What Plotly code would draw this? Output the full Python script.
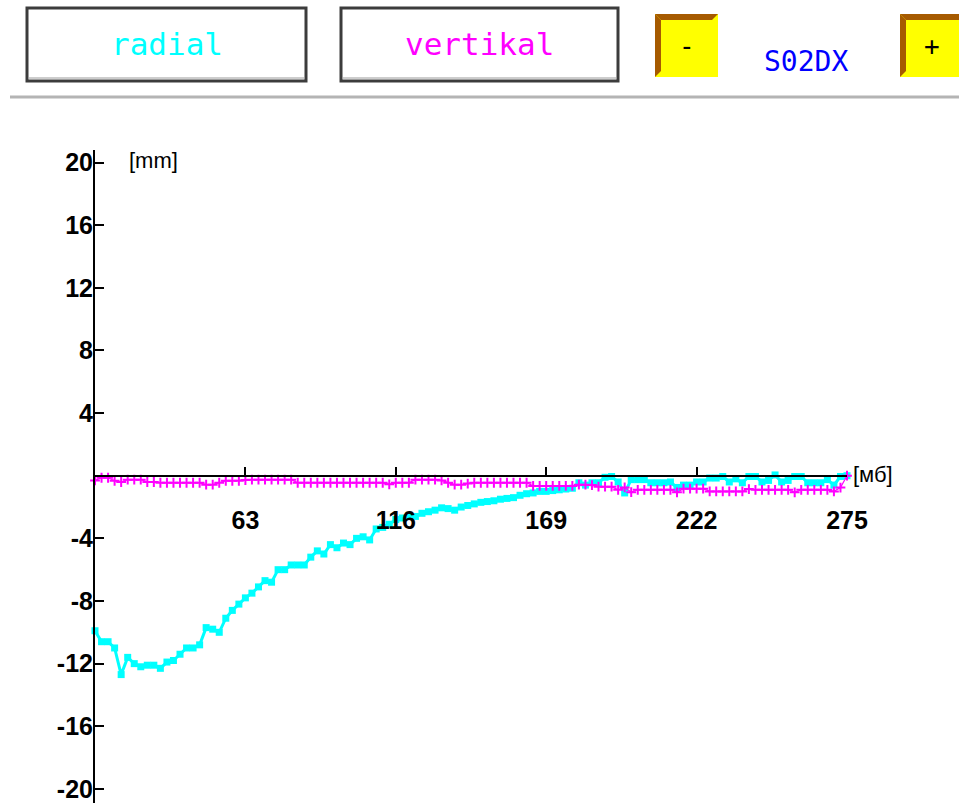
import plotly.graph_objects as go

# ---------------- data ----------------
x_mb = [round(10 + i * 265 / 115, 2) for i in range(116)]

radial_mm = [
    -9.9, -10.6, -10.6, -11.0, -12.7, -11.6, -12.0, -12.2, -12.1, -12.1,
    -12.3, -11.9, -11.8, -11.4, -11.0, -11.0, -10.8, -9.7, -9.8, -10.0,
    -9.1, -8.6, -8.2, -7.8, -7.5, -7.1, -6.7, -6.8, -6.0, -6.0,
    -5.7, -5.7, -5.7, -5.2, -4.8, -5.0, -4.4, -4.6, -4.3, -4.4,
    -4.0, -3.9, -4.1, -3.4, -3.3, -3.1, -2.8, -2.7, -2.6, -2.6,
    -2.4, -2.3, -2.2, -2.05, -2.1, -2.2, -2.0, -1.9, -1.8, -1.7,
    -1.65, -1.6, -1.5, -1.45, -1.4, -1.25, -1.15, -1.1, -1.0, -1.0,
    -0.95, -0.9, -0.85, -0.8, -0.45, -0.6, -0.45, -0.45, -0.1, -0.05,
    -0.4, -1.1, -0.25, -0.25, -0.25, -0.45, -0.45, -0.45, -0.4, -0.75,
    -0.6, -0.6, -0.4, -0.4, -0.15, -0.15, -0.05, -0.4, -0.2, -0.45,
    -0.05, -0.05, -0.4, -0.3, 0.05, -0.4, -0.3, -0.05, -0.05, -0.45,
    -0.45, -0.45, -0.25, -0.6, -0.05, 0.0,
]

vertikal_mm = [
    -0.3, -0.13, -0.13, -0.32, -0.4, -0.25, -0.25, -0.25, -0.4, -0.4,
    -0.45, -0.45, -0.45, -0.45, -0.45, -0.45, -0.45, -0.57, -0.57, -0.45,
    -0.32, -0.32, -0.32, -0.28, -0.25, -0.25, -0.25, -0.25, -0.25, -0.25,
    -0.25, -0.45, -0.45, -0.45, -0.45, -0.45, -0.45, -0.45, -0.45, -0.45,
    -0.45, -0.45, -0.45, -0.45, -0.45, -0.55, -0.45, -0.45, -0.45, -0.25,
    -0.25, -0.25, -0.25, -0.3, -0.45, -0.57, -0.57, -0.5, -0.45, -0.45,
    -0.45, -0.45, -0.45, -0.45, -0.45, -0.45, -0.45, -0.65, -0.65, -0.65,
    -0.65, -0.65, -0.65, -0.65, -0.57, -0.57, -0.6, -0.7, -0.7, -0.7,
    -0.9, -0.75, -1.05, -0.9, -0.9, -0.9, -0.9, -0.9, -0.9, -1.06,
    -0.83, -0.83, -0.83, -0.83, -1.0, -1.0, -1.0, -1.0, -1.0, -1.0,
    -0.85, -0.9, -0.9, -0.9, -0.9, -0.9, -0.9, -1.06, -0.9, -0.9,
    -0.9, -0.9, -0.9, -1.0, -0.76, 0.0,
]

y_tick_vals = [20, 16, 12, 8, 4, -4, -8, -12, -16, -20]
y_tick_text = ["20", "16", "12", "8", "4", "-4", "-8", "-12", "-16", "-20"]
x_tick_vals = [63, 116, 169, 222, 275]
x_tick_text = ["63", "116", "169", "222", "275"]

# ---------------- geometry ----------------
W_PAGE, H_PAGE = 959, 808
M_L, M_R, M_T, M_B = 95, 112, 150, 5
Y_MIN, Y_MAX = -20.9, 20.8
X_MIN, X_MAX = 10, 275
PW = W_PAGE - M_L - M_R
PH = H_PAGE - M_T - M_B


def fx(px):
    return (px - M_L) / PW


def fy(py):
    return (H_PAGE - M_B - py) / PH


TICKF = "Liberation Sans, Arial, sans-serif"
MONO = "DejaVu Sans Mono, Liberation Mono, monospace"

fig = go.Figure()

fig.add_trace(go.Scatter(
    x=x_mb, y=radial_mm, mode="lines+markers", name="radial",
    line=dict(color="#00FFFF", width=3),
    marker=dict(symbol="square", size=7, color="#00FFFF"),
    cliponaxis=False,
))
fig.add_trace(go.Scatter(
    x=x_mb, y=vertikal_mm, mode="lines+markers", name="vertikal",
    line=dict(color="#FF00FF", width=1.2),
    marker=dict(symbol="cross-thin", size=7, color="#FF00FF",
                line=dict(color="#FF00FF", width=2)),
    cliponaxis=False,
))

shapes = []
annotations = []

# top boxes
for (x0, x1, label, col) in [(27, 306, "radial", "#00FFFF"), (341, 618, "vertikal", "#FF00FF")]:
    shapes.append(dict(type="rect", xref="paper", yref="paper",
                       x0=fx(x0), x1=fx(x1), y0=fy(81), y1=fy(8),
                       line=dict(color="#3c3c3c", width=3), fillcolor="white"))
    shapes.append(dict(type="line", xref="paper", yref="paper",
                       x0=fx(x0 + 2), x1=fx(x1 - 1), y0=fy(78), y1=fy(78),
                       line=dict(color="#9a9a9a", width=1)))
    annotations.append(dict(xref="paper", yref="paper", x=fx((x0 + x1) / 2), y=fy(44),
                            text=label, showarrow=False,
                            font=dict(family=MONO, size=31, color=col),
                            xanchor="center", yanchor="middle"))

# yellow buttons with brown bevel
for (x0, x1, label) in [(655, 718, "-"), (900, 966, "+")]:
    y0, y1 = 14, 77
    b = 6
    shapes.append(dict(type="rect", xref="paper", yref="paper",
                       x0=fx(x0), x1=fx(x1), y0=fy(y1), y1=fy(y0),
                       line=dict(width=0), fillcolor="#FFFF00"))
    top = "M {} {} L {} {} L {} {} L {} {} Z".format(
        fx(x0), fy(y0), fx(x1), fy(y0), fx(x1 - b), fy(y0 + b), fx(x0 + b), fy(y0 + b))
    left = "M {} {} L {} {} L {} {} L {} {} Z".format(
        fx(x0), fy(y0), fx(x0 + b), fy(y0 + b), fx(x0 + b), fy(y1 - b), fx(x0), fy(y1))
    for p in (top, left):
        shapes.append(dict(type="path", xref="paper", yref="paper", path=p,
                           fillcolor="#A65A00", line=dict(width=0)))
    annotations.append(dict(xref="paper", yref="paper", x=fx(x0 + 32), y=fy(46),
                            text=label, showarrow=False,
                            font=dict(family=MONO, size=26, color="black"),
                            xanchor="center", yanchor="middle"))

annotations.append(dict(xref="paper", yref="paper", x=fx(806), y=fy(61),
                        text="S02DX", showarrow=False,
                        font=dict(family=MONO, size=28, color="#0000FF"),
                        xanchor="center", yanchor="middle"))

# separator line
shapes.append(dict(type="line", xref="paper", yref="paper",
                   x0=fx(10), x1=fx(959), y0=fy(97), y1=fy(97),
                   line=dict(color="#b4b4b4", width=3)))

# unit labels
annotations.append(dict(xref="paper", yref="paper", x=fx(127), y=fy(161),
                        text="[mm]", showarrow=False,
                        font=dict(family=TICKF, size=22, color="black"),
                        xanchor="left", yanchor="middle"))
annotations.append(dict(xref="paper", yref="paper", x=fx(851), y=fy(474),
                        text="[мб]", showarrow=False,
                        font=dict(family=TICKF, size=22, color="black"),
                        xanchor="left", yanchor="middle"))

fig.update_layout(
    width=W_PAGE, height=H_PAGE,
    margin=dict(l=M_L, r=M_R, t=M_T, b=M_B),
    paper_bgcolor="white", plot_bgcolor="white",
    showlegend=False,
    shapes=shapes, annotations=annotations,
    xaxis=dict(range=[X_MIN, X_MAX], anchor="free",
               position=(0 - Y_MIN) / (Y_MAX - Y_MIN),
               showline=True, linecolor="black", linewidth=2,
               ticks="inside", ticklen=8, tickwidth=2, tickcolor="black",
               tickvals=x_tick_vals, ticktext=x_tick_text,
               tickfont=dict(family=TICKF, size=25, color="black", weight="bold"),
               ticklabelstandoff=22,
               showgrid=False, zeroline=False),
    yaxis=dict(range=[Y_MIN, Y_MAX],
               showline=True, linecolor="black", linewidth=2,
               ticks="inside", ticklen=9, tickwidth=2, tickcolor="black",
               tickvals=y_tick_vals, ticktext=y_tick_text,
               tickfont=dict(family=TICKF, size=25, color="black", weight="bold"),
               ticklabelstandoff=-5,
               showgrid=False, zeroline=False),
)

fig.write_html("out.html")
